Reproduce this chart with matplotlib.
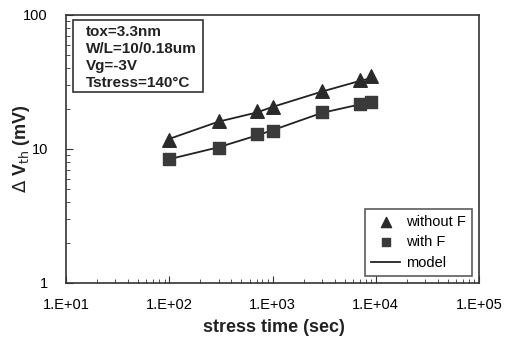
import matplotlib.pyplot as plt
import numpy as np
from matplotlib.ticker import LogLocator, FixedLocator, NullFormatter
from matplotlib.patches import Rectangle

plt.rcParams['font.family'] = ['Liberation Sans', 'DejaVu Sans']

# measured data
t = [100, 300, 700, 1000, 3000, 7000, 9000]
dvth_noF = [11.7, 16.2, 19.2, 20.6, 27.1, 32.7, 35.0]
dvth_F = [8.4, 10.2, 12.9, 13.6, 18.9, 21.7, 22.4]

# model curves
t_model = [100, 300, 700, 1000, 3000, 7000, 9000]
model_noF = [11.9, 16.0, 18.7, 20.6, 26.8, 32.2, 33.8]
model_F = [8.4, 10.3, 12.6, 13.8, 18.6, 21.5, 22.2]

xticks = [1e1, 1e2, 1e3, 1e4, 1e5]
xlabels = ['1.E+01', '1.E+02', '1.E+03', '1.E+04', '1.E+05']
yticks = [1, 10, 100]
ylabels = ['1', '10', '100']
info = ['tox=3.3nm', 'W/L=10/0.18um', 'Vg=-3V', 'Tstress=140\u00b0C']

W, H = 514, 338
x0, x1, y0, y1 = 66, 479, 15, 283  # axes box in pixels
fig = plt.figure(figsize=(W/100, H/100), dpi=100)
ax = fig.add_axes([x0/W, 1-y1/H, (x1-x0)/W, (y1-y0)/H])

ax.plot(t_model, model_noF, color='#222222', lw=1.3, label='model', zorder=2)
ax.plot(t_model, model_F, color='#222222', lw=1.3, zorder=2)
ax.scatter(t, dvth_noF, marker='^', s=95, color='#2a2a2a', label='without F', zorder=3)
ax.scatter(t, dvth_F, marker='s', s=72, color='#3a3a3a', label='with F', zorder=3)

ax.set_xscale('log')
ax.set_yscale('log')
ax.set_xlim(1e1, 1e5)
ax.set_ylim(1, 100)
ax.xaxis.set_major_locator(FixedLocator(xticks))
ax.set_xticklabels(xlabels)
ax.yaxis.set_major_locator(FixedLocator(yticks))
ax.set_yticklabels(ylabels)
ax.xaxis.set_minor_locator(LogLocator(base=10, subs=np.arange(2, 10)))
ax.yaxis.set_minor_locator(LogLocator(base=10, subs=np.arange(2, 10)))
ax.xaxis.set_minor_formatter(NullFormatter())
ax.yaxis.set_minor_formatter(NullFormatter())
ax.tick_params(which='both', direction='in', labelsize=10.5, color='#333333')
ax.tick_params(which='major', length=5)
ax.tick_params(which='minor', length=3)
ax.tick_params(axis='x', which='major', pad=11)
ax.tick_params(axis='y', which='major', pad=13)
for sp in ax.spines.values():
    sp.set_linewidth(1.2)
    sp.set_color('#333333')

fig.text(274/W, 1-328/H, 'stress time (sec)', ha='center', va='center',
         fontsize=13, fontweight='bold', color='#222222')
fig.text(22/W, 1-149/H, r'$\Delta$ V$_{\mathrm{th}}$ (mV)', ha='center', va='center',
         rotation=90, fontsize=13, fontweight='bold', color='#222222')

# info box
def px_to_ax(px, py):
    return (px - x0) / (x1 - x0), (y1 - py) / (y1 - y0)

bx, by = px_to_ax(73, 92)
bx2, by2 = px_to_ax(203, 20)
ax.add_patch(Rectangle((bx, by), bx2 - bx, by2 - by, transform=ax.transAxes,
                       facecolor='white', edgecolor='#333333', lw=1.2, zorder=4))
for line, py in zip(info, [32, 49, 66, 83]):
    tx, ty = px_to_ax(86, py)
    ax.text(tx, ty, line, transform=ax.transAxes, ha='left', va='center',
            fontsize=11, fontweight='bold', color='#222222', zorder=5)

h, l = ax.get_legend_handles_labels()
order = [1, 2, 0]
leg = ax.legend([h[i] for i in order], [l[i] for i in order], loc='lower right',
                fontsize=10.5, frameon=True, fancybox=False, edgecolor='#333333',
                handlelength=2.0, borderaxespad=0.5, labelspacing=0.45,
                markerscale=0.75, handletextpad=0.4)
leg.get_frame().set_linewidth(1.2)

fig.savefig('out.png', dpi=100)
